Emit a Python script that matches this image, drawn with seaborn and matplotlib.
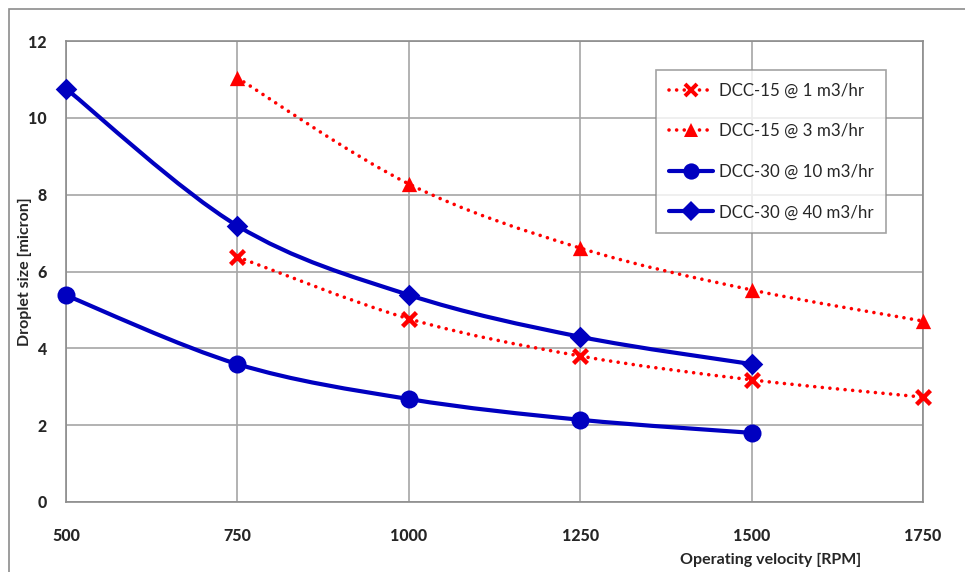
import numpy as np
import pandas as pd
import seaborn as sns
import matplotlib
matplotlib.use("Agg")
import matplotlib.pyplot as plt
from matplotlib.path import Path
from matplotlib.patches import PathPatch, Rectangle
from matplotlib.lines import Line2D

# ---- data ----
rpm_15 = [750, 1000, 1250, 1500, 1750]
dcc15_1 = [6.38, 4.77, 3.80, 3.18, 2.73]
dcc15_3 = [11.04, 8.28, 6.61, 5.52, 4.71]
rpm_30 = [500, 750, 1000, 1250, 1500]
dcc30_10 = [5.38, 3.59, 2.68, 2.14, 1.80]
dcc30_40 = [10.76, 7.19, 5.39, 4.30, 3.59]

series_names = ["DCC-15 @ 1 m3/hr", "DCC-15 @ 3 m3/hr",
                "DCC-30 @ 10 m3/hr", "DCC-30 @ 40 m3/hr"]
x_ticks = [500, 750, 1000, 1250, 1500, 1750]
y_ticks = [0, 2, 4, 6, 8, 10, 12]

frames = []
for name, xs, ys in zip(series_names,
                        [rpm_15, rpm_15, rpm_30, rpm_30],
                        [dcc15_1, dcc15_3, dcc30_10, dcc30_40]):
    frames.append(pd.DataFrame({"rpm": xs, "size": ys, "series": name}))
df = pd.concat(frames, ignore_index=True)

sns.set_theme(style="white")
plt.rcParams["font.family"] = ["Lato", "DejaVu Sans"]

fig = plt.figure(figsize=(9.65, 5.72), dpi=100)
ax = fig.add_axes([66 / 965, 1 - 502 / 572, (923 - 66) / 965, (502 - 41) / 572])

red = "#ff0000"
blue = "#0000c0"
dot = (0, (0.01, 2.1))
styles = {
    series_names[0]: dict(color=red, ls=dot, lw=2.6, marker="x", ms=10, mew=3.2),
    series_names[1]: dict(color=red, ls=dot, lw=2.6, marker="^", ms=11, mew=0),
    series_names[2]: dict(color=blue, ls="-", lw=3, marker="o", ms=13, mew=0),
    series_names[3]: dict(color=blue, ls="-", lw=3, marker="D", ms=11, mew=0),
}


def smooth_path(xs, ys):
    # Catmull-Rom style cubic Bezier through the data points (Excel "smoothed line")
    xs = np.asarray(xs, float)
    ys = np.asarray(ys, float)
    verts = [(xs[0], ys[0])]
    codes = [Path.MOVETO]
    n = len(xs)
    for i in range(n - 1):
        p0 = (xs[max(i - 1, 0)], ys[max(i - 1, 0)])
        p1 = (xs[i], ys[i])
        p2 = (xs[i + 1], ys[i + 1])
        p3 = (xs[min(i + 2, n - 1)], ys[min(i + 2, n - 1)])
        c1 = (p1[0] + (p2[0] - p0[0]) / 6, p1[1] + (p2[1] - p0[1]) / 6)
        c2 = (p2[0] - (p3[0] - p1[0]) / 6, p2[1] - (p3[1] - p1[1]) / 6)
        verts += [c1, c2, p2]
        codes += [Path.CURVE4] * 3
    return Path(verts, codes)


for name in series_names:
    sub = df[df.series == name]
    st = styles[name]
    patch = PathPatch(smooth_path(sub.rpm, sub["size"]), facecolor="none",
                      edgecolor=st["color"], lw=st["lw"], ls=st["ls"],
                      zorder=3, capstyle="round", clip_on=False)
    ax.add_patch(patch)
    sns.scatterplot(data=sub, x="rpm", y="size", ax=ax, marker=st["marker"],
                    s=st["ms"] ** 2, color=st["color"], edgecolor=st["color"],
                    linewidth=st["mew"], zorder=4, legend=False, clip_on=False)

# legend handles
handles = []
for name in series_names:
    st = styles[name]
    handles.append(Line2D([], [], color=st["color"], ls=st["ls"], lw=st["lw"],
                          marker=st["marker"], ms=st["ms"] * 0.9,
                          mew=st["mew"] * 0.9, dash_capstyle="round"))
leg = ax.legend(handles, series_names, loc="upper left",
                bbox_to_anchor=((656 - 66) / 857, (502 - 70) / 461),
                frameon=True, fancybox=False, fontsize=12.2, handlelength=2.6,
                labelspacing=1.45, borderpad=0.75, handletextpad=0.35,
                borderaxespad=0)
leg.get_frame().set_edgecolor("#8c8c8c")
leg.get_frame().set_linewidth(1.2)

ax.set_xlim(500, 1750)
ax.set_ylim(0, 12)
ax.set_xticks(x_ticks)
ax.set_yticks(y_ticks)
ax.set_xticklabels([str(v) for v in x_ticks], fontweight="black", fontsize=11.5)
ax.set_yticklabels([str(v) for v in y_ticks], fontweight="black", fontsize=11.5)
ax.grid(True, color="#a6a6a6", lw=1.2)
ax.set_axisbelow(True)
for sp in ax.spines.values():
    sp.set_color("#8c8c8c")
    sp.set_linewidth(1.2)
    sp.set_visible(True)
ax.tick_params(axis="x", direction="out", length=6, width=1.2, color="#8c8c8c",
               pad=13)
ax.tick_params(axis="y", direction="out", length=6, width=1.2, color="#8c8c8c",
               pad=8)

ax.set_ylabel("Droplet size [micron]", fontweight="bold", fontsize=11.5)
ax.yaxis.label.set_va("center")
ax.yaxis.set_label_coords(-(66 - 25) / 857, (502 - 272) / 461)
ax.set_xlabel("Operating velocity [RPM]", fontweight="bold", fontsize=11.5)
ax.xaxis.label.set_va("center")
ax.xaxis.set_label_coords((771 - 66) / 857, -(560 - 502) / 461)

# outer chart border
fig.patches.append(Rectangle((9 / 965, -0.05), 1.1, 1 - 9 / 572 + 0.05,
                             transform=fig.transFigure, fill=False,
                             edgecolor="#8c8c8c", lw=1.2))

fig.savefig("out.png", dpi=100)
